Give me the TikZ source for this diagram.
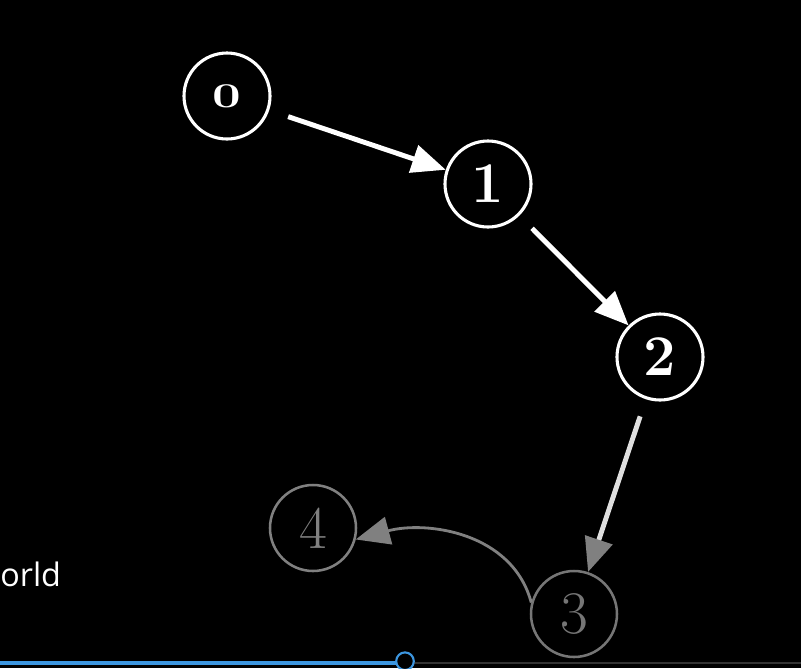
\documentclass[tikz,border=0pt]{standalone}
\usepackage{fontspec}
\usepackage{xcolor}
\usepackage{graphicx}
\usetikzlibrary{arrows.meta}
\newfontfamily\barfont{Open Sans}

\definecolor{dimgray}{HTML}{767676}
\definecolor{bargreen}{HTML}{3C96E0}

\begin{document}
\begin{tikzpicture}[
  state/.style={circle,draw=white,line width=2.2pt,minimum size=2.15cm,inner sep=0pt,text=white,
    font=\fontsize{41}{46}\selectfont\bfseries},
  faded/.style={circle,draw=dimgray,line width=1.8pt,minimum size=2.15cm,inner sep=0pt,text=dimgray,
    font=\fontsize{43}{48}\selectfont},
  hop/.style={white,line width=3.5pt,-{Triangle[length=0.85cm,width=0.7cm]}}
]
\useasboundingbox (0,0) rectangle (20.025,-16.7);
\fill[black] (0,0) rectangle (20.025,-16.7);

\node[state] (n0) at (5.675,-2.4) {\scalebox{1.1}[0.75]{\fontsize{33}{36}\selectfont 0}};
\node[state] (n1) at (12.2,-4.6) {1};
\node[state] (n2) at (16.5,-8.925) {2};
\node[faded] (n3) at (14.35,-15.35) {3};
\node[faded,draw=gray,text=gray] (n4) at (7.825,-13.2) {4};

\draw[hop,shorten <=0.5cm] (n0) -- (n1);
\draw[hop,shorten <=0.45cm] (n1) -- (n2);
\draw[hop,white!75!gray,shorten <=0.45cm,-{Triangle[length=0.85cm,width=0.7cm,color=gray]}] (n2) -- (n3);
\draw[gray,line width=2pt,-{Triangle[length=0.85cm,width=0.7cm]}] (n3.165) to[out=105,in=15] (n4.-15);

\node[anchor=base west,text=white,font=\barfont\fontsize{23}{28}\selectfont,inner sep=0pt] (word) at (0,-14.65) {orld};

% player bar
\draw[bargreen,line width=2.8pt] (0,-16.575) -- (10.125,-16.575);
\draw[gray!40!black,line width=1.2pt] (10.125,-16.575) -- (20.025,-16.575);
\filldraw[draw=bargreen,fill=black,line width=1.5pt] (10.125,-16.53) circle (0.22cm);
\end{tikzpicture}
\end{document}
